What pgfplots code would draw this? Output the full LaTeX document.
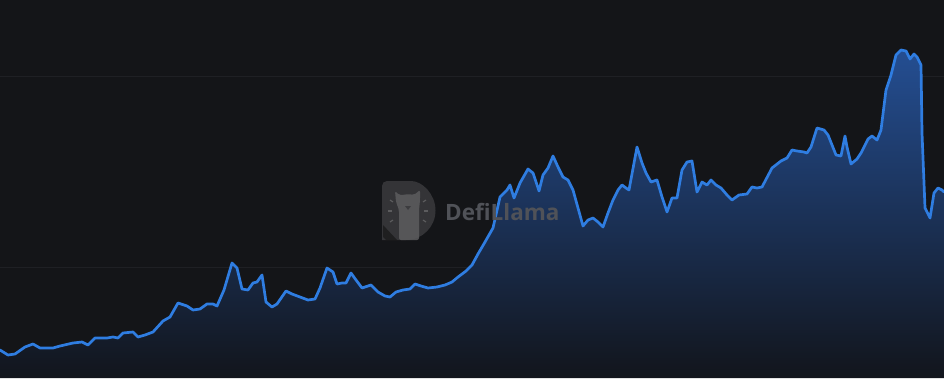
\documentclass[border=0pt]{standalone}
\usepackage{pgfplots}
\pgfplotsset{compat=1.18}
\usepackage{fontspec}
\newfontfamily\wmfont{Open Sans}

\definecolor{bg}{RGB}{20,21,24}
\definecolor{gridc}{RGB}{31,32,36}
\definecolor{tvl}{RGB}{47,125,225}
\definecolor{filltop}{RGB}{36,78,146}
\definecolor{fillbot}{RGB}{18,21,28}
\definecolor{logobg}{RGB}{60,60,63}
\definecolor{logofg}{RGB}{92,92,94}
\definecolor{wmtext}{RGB}{80,82,88}

% TVL series (x = time index, y = value)
\pgfplotstableread{
x y
0 28
8 23
15 24
25 31
33 34
40 30
53 30
60 32
73 35
82 36
88 33
95 40
107 40
113 41
118 40
123 45
133 46
138 41
145 43
153 46
163 57
170 61
178 75
187 72
193 68
200 69
207 74
213 74
217 72
224 88
232 115
237 110
242 89
248 88
253 95
257 96
262 103
266 76
272 71
277 74
286 87
292 84
300 81
308 78
315 79
320 90
327 110
333 106
337 94
342 95
346 95
351 105
356 98
362 90
371 93
378 86
385 82
390 81
396 86
403 88
410 89
415 94
421 92
428 90
437 91
445 93
452 96
458 101
466 107
472 113
478 124
485 136
493 150
500 181
507 188
510 193
514 180
520 195
528 209
533 205
539 187
543 203
548 210
553 222
558 211
563 201
568 198
573 188
578 170
583 152
588 158
593 160
598 156
603 151
608 165
613 178
618 188
622 193
626 190
629 188
637 231
642 215
646 205
651 196
657 198
662 181
667 166
672 180
677 180
682 208
687 216
692 217
697 186
702 196
707 193
711 198
716 193
721 190
727 183
732 178
739 183
747 184
752 191
757 190
762 191
772 210
781 217
787 220
792 228
797 227
804 226
807 225
811 231
817 250
824 248
828 243
832 233
836 223
841 222
845 242
847 231
851 214
857 219
861 225
868 239
872 242
877 238
881 248
886 288
891 303
896 323
901 328
906 327
910 319
914 324
917 321
921 313
922 245
925 170
930 160
934 185
938 190
942 188
944 186
}\tvldata

\begin{document}
\begin{tikzpicture}
\begin{axis}[
  name=ax,
  at={(0,0)}, anchor=south west,
  scale only axis,
  width=944pt, height=378pt,
  xmin=0, xmax=944, ymin=0, ymax=378,
  axis background/.style={fill=bg},
  axis line style={draw=none},
  xtick=\empty,
  ytick={111,301},
  yticklabels={},
  major tick length=0pt,
  ymajorgrids,
  grid style={gridc, line width=1pt},
  clip=true,
]
  % gradient area under the curve
  \addplot[draw=none, top color=filltop, bottom color=fillbot]
    table[x=x, y=y] {\tvldata} \closedcycle;
  % curve
  \addplot[tvl, line width=2.7pt, line join=round, line cap=round, mark=none]
    table[x=x, y=y] {\tvldata};

  % watermark logo
  \fill[logobg, opacity=0.8, rounded corners=5pt]
    (axis cs:382,138) -- (axis cs:382,197) -- (axis cs:406,197)
    [sharp corners] arc[start angle=90, end angle=-90, radius=29.5pt]
    -- cycle;
  \fill[black!60!logobg, opacity=0.75]
    (axis cs:383,153) -- (axis cs:397,138) -- (axis cs:386,138) -- (axis cs:383,141) -- cycle;
  \fill[logofg, opacity=0.85, rounded corners=2pt]
    (axis cs:399,138) -- (axis cs:399,168) -- (axis cs:396,176)
    -- (axis cs:395,187) -- (axis cs:399,183) -- (axis cs:403,183)
    -- (axis cs:408,184) -- (axis cs:414,183) -- (axis cs:420,188)
    -- (axis cs:420,178) -- (axis cs:419,168) -- (axis cs:419,138) -- cycle;
  \fill[logobg] (axis cs:405,172) -- (axis cs:411,172) -- (axis cs:408,168) -- cycle;
  \draw[logofg, line width=1.2pt] (axis cs:390,178) -- (axis cs:393,176);
  \draw[logofg, line width=1.2pt] (axis cs:388,167) -- (axis cs:392,167);
  \draw[logofg, line width=1.2pt] (axis cs:390,156) -- (axis cs:393,158);
  \draw[logofg, line width=1.2pt] (axis cs:426,178) -- (axis cs:423,176);
  \draw[logofg, line width=1.2pt] (axis cs:428,167) -- (axis cs:424,167);
  \draw[logofg, line width=1.2pt] (axis cs:426,156) -- (axis cs:423,158);
  \node[anchor=base west, inner sep=0pt, text=wmtext, font=\wmfont\bfseries\fontsize{22.5}{22.5}\selectfont]
    at (axis cs:445,158) {DefiLlama};
\end{axis}
\pgfresetboundingbox
\useasboundingbox (ax.south west) rectangle (ax.north east);
\end{tikzpicture}
\end{document}
